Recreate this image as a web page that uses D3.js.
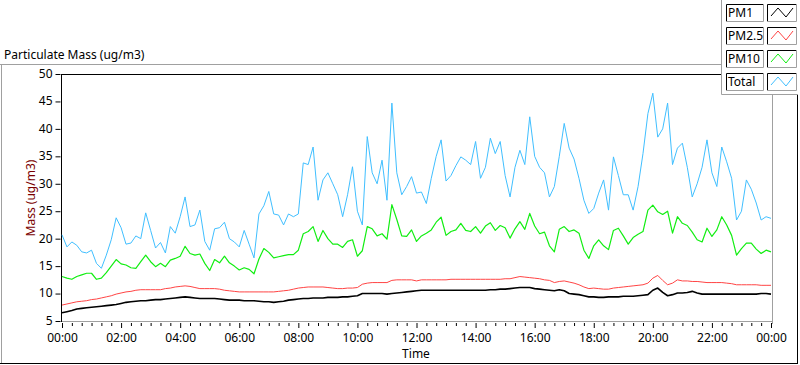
<!DOCTYPE html>
<html><head><meta charset="utf-8">
<script src="https://cdn.jsdelivr.net/npm/d3@7"></script>
<style>
body{margin:0;background:#fff;}
svg{display:block;font-family:"Noto Sans",sans-serif;}
</style></head>
<body><svg id="c" width="800" height="365"></svg>
<script>
// Samples every 10 minutes from 00:00 to 24:00 (145 points)
const startMinute = 0, stepMinutes = 10;
const seriesNames = ["PM1","PM2.5","PM10","Total"];
const seriesColors = ["#000000","#ff4444","#11ee11","#40bfff"];
const xTickLabels = ["00:00","02:00","04:00","06:00","08:00","10:00","12:00","14:00","16:00","18:00","20:00","22:00","00:00"];
const yTicks = [5,10,15,20,25,30,35,40,45,50];

const pm1 = [6.5,6.7,6.9,7.2,7.3,7.4,7.5,7.6,7.7,7.8,7.9,8.0,8.2,8.4,8.5,8.6,8.7,8.7,8.8,8.9,8.9,9.0,9.1,9.2,9.3,9.4,9.3,9.2,9.1,9.1,9.1,9.1,9.0,8.9,8.8,8.8,8.8,
8.7,8.7,8.7,8.6,8.5,8.5,8.4,8.5,8.6,8.8,8.9,9.0,9.1,9.1,9.2,9.2,9.2,9.3,9.3,9.3,9.4,9.4,9.5,9.6,10.0,10.0,10.0,10.0,10.0,9.9,10.0,10.1,10.2,10.3,10.4,10.5,
10.6,10.6,10.6,10.6,10.6,10.6,10.6,10.6,10.6,10.6,10.6,10.6,10.6,10.6,10.7,10.7,10.8,10.8,10.9,11.0,11.1,11.1,11.1,10.9,10.8,10.7,10.6,10.5,10.7,10.5,10.0,9.9,9.8,9.6,9.4,9.4,
9.3,9.3,9.4,9.4,9.4,9.5,9.5,9.5,9.6,9.7,9.8,10.6,11.0,10.2,9.6,9.8,10.1,10.1,10.2,10.4,10.1,9.9,9.9,9.9,9.9,9.9,9.9,9.9,9.9,9.9,9.9,9.9,9.9,10.0,10.0,9.9];

const pm25 = [7.9,8.1,8.3,8.5,8.6,8.7,8.9,9.0,9.2,9.4,9.6,9.9,10.1,10.3,10.4,10.6,10.7,10.7,10.7,10.7,10.7,10.9,11.0,11.2,11.3,11.4,11.3,11.1,10.9,10.9,10.9,10.9,10.8,10.6,10.5,10.4,10.3,
10.3,10.3,10.3,10.3,10.3,10.3,10.3,10.4,10.5,10.6,10.8,11.0,11.1,11.2,11.2,11.2,11.2,11.1,11.0,10.9,10.9,11.0,11.0,11.1,11.7,11.9,12.0,12.0,12.0,12.0,12.4,12.5,12.5,12.5,12.5,12.3,
12.5,12.5,12.5,12.5,12.5,12.5,12.6,12.6,12.6,12.6,12.6,12.6,12.6,12.6,12.6,12.6,12.6,12.7,12.7,12.9,13.1,13.0,12.9,12.8,12.7,12.5,12.4,12.0,12.2,12.3,12.1,11.9,11.6,11.2,10.9,11.0,
10.9,10.8,10.8,11.0,11.1,11.2,11.3,11.4,11.5,11.6,11.9,12.8,13.3,12.4,11.6,11.9,12.5,12.3,12.3,12.2,12.2,12.1,12.0,12.0,12.0,12.0,11.9,11.8,11.6,11.6,11.6,11.6,11.6,11.5,11.5,11.5];

const pm10 = [13.1,12.8,12.6,13.1,13.4,13.7,13.7,12.6,12.8,13.8,15.0,16.2,15.4,15.2,14.7,14.6,15.8,17.0,15.8,14.9,15.5,14.9,16.1,16.4,16.8,18.6,17.3,17.0,17.2,15.5,14.2,16.2,15.6,16.8,15.6,15.0,14.3,
14.7,14.4,13.6,16.3,18.2,17.5,16.5,16.7,16.9,17.1,17.1,17.9,20.9,21.3,22.2,19.5,21.5,20.0,19.0,19.0,18.4,19.5,19.8,16.8,17.8,22.2,21.8,20.5,20.9,19.9,26.2,23.5,20.5,20.4,21.6,19.5,
20.5,21.0,21.6,23.0,23.9,20.6,21.3,21.6,22.8,21.5,21.3,22.2,21.0,22.3,22.9,21.5,22.4,22.0,20.1,21.8,23.1,21.7,24.6,22.3,20.9,21.2,18.7,17.6,21.7,22.2,21.3,21.6,21.0,17.9,16.4,18.7,
19.8,18.7,18.0,21.5,21.9,20.5,19.0,20.2,20.8,21.3,25.2,26.1,24.9,24.4,25.0,21.0,24.0,22.8,22.4,21.2,19.8,19.4,21.9,20.4,21.6,24.0,22.5,20.6,17.0,18.2,19.2,19.2,18.1,17.3,17.9,17.6];

const total = [20.7,18.5,19.4,18.8,17.6,17.4,17.9,15.5,14.6,17.0,19.8,23.8,22.0,19.0,19.2,20.5,20.0,24.7,21.5,18.3,19.3,17.4,22.2,21.0,24.0,27.6,22.2,22.5,25.2,19.5,17.9,21.8,22.0,23.0,20.0,19.4,18.5,
21.5,19.0,16.5,24.5,26.0,28.6,24.5,24.3,22.5,24.5,24.0,24.5,33.8,33.5,36.7,27.0,30.7,32.0,30.0,28.0,24.0,28.0,33.1,25.0,22.5,38.6,32.0,30.0,34.3,27.0,44.7,32.0,28.0,29.5,31.3,28.3,
28.5,26.4,31.0,35.0,38.0,30.5,31.5,33.3,34.9,34.3,33.5,37.7,31.0,33.0,38.3,35.5,37.7,31.5,27.6,33.0,36.1,33.5,42.2,35.0,33.0,32.0,27.6,29.5,35.0,41.0,36.5,34.5,31.0,27.0,24.6,25.5,
28.3,30.7,25.2,34.9,31.5,28.0,28.0,25.2,29.5,35.5,42.8,46.5,38.5,40.0,44.7,33.5,36.5,37.4,33.0,27.6,30.0,33.0,38.0,32.0,29.5,36.7,34.0,31.0,23.4,25.0,30.7,29.0,26.5,23.4,24.0,23.7];

const seriesValues = [pm1, pm25, pm10, total];

const svg = d3.select("#c");
const L = 62, R = 771, T = 74, B = 321;
const x = d3.scaleLinear().domain([0, 1440]).range([L, R]);
const y = d3.scaleLinear().domain([5, 50]).range([B, T]);

// outer panel borders
svg.append("line").attr("x1",0).attr("x2",722).attr("y1",64.5).attr("y2",64.5).attr("stroke","#a0a0a0");
svg.append("line").attr("x1",1.5).attr("x2",1.5).attr("y1",64).attr("y2",364).attr("stroke","#a0a0a0");
svg.append("line").attr("x1",0).attr("x2",798).attr("y1",363.5).attr("y2",363.5).attr("stroke","#000");
svg.append("line").attr("x1",797.5).attr("x2",797.5).attr("y1",94).attr("y2",364).attr("stroke","#000");

// title
svg.append("text").attr("x",4).attr("y",59).attr("font-size",12).attr("fill","#000").text("Particulate Mass (ug/m3)");

// plot area borders
svg.append("line").attr("x1",L).attr("x2",R+1).attr("y1",T+0.5).attr("y2",T+0.5).attr("stroke","#000");
svg.append("line").attr("x1",L-0.5).attr("x2",L-0.5).attr("y1",T).attr("y2",B+1).attr("stroke","#000");
svg.append("line").attr("x1",L).attr("x2",R+1).attr("y1",B+0.5).attr("y2",B+0.5).attr("stroke","#a0a0a0");
svg.append("line").attr("x1",R+1.5).attr("x2",R+1.5).attr("y1",T).attr("y2",B+3).attr("stroke","#a0a0a0");

// lines
const times = pm1.map((d,i)=> startMinute + i*stepMinutes);
const widths = [1.6,1,1.2,1];
const g = svg.append("g");
seriesValues.slice().reverse().forEach((vals, ri) => {
  const i = seriesValues.length-1-ri;
  const line = d3.line().x((d,j)=>x(times[j])).y(d=>y(d));
  g.append("path").datum(vals).attr("d", line).attr("fill","none")
   .attr("stroke", seriesColors[i]).attr("stroke-width", widths[i]).attr("stroke-linejoin","round");
});

// y axis
const yAxis = d3.axisLeft(y).tickValues(yTicks).tickSize(5).tickPadding(3);
const ya = svg.append("g").attr("transform",`translate(${L-1.5},0)`).call(yAxis);
ya.select(".domain").remove();
ya.selectAll("text").attr("font-size",12).attr("font-family","Noto Sans").attr("fill","#000").attr("dy","0.28em");

// x axis: major every 2h, minor every 20 min
const minorTicks = d3.range(0, 1441, 20).filter(m => m % 120 !== 0);
const xMinor = d3.axisBottom(x).tickValues(minorTicks).tickSize(3).tickFormat("");
const xm = svg.append("g").attr("transform",`translate(0,${B+2})`).call(xMinor);
xm.select(".domain").remove();
const majorTicks = xTickLabels.map((d,i)=> i*120);
const xMajor = d3.axisBottom(x).tickValues(majorTicks).tickSize(5).tickPadding(5)
  .tickFormat((d,i)=> xTickLabels[i]);
const xa = svg.append("g").attr("transform",`translate(0,${B+2})`).call(xMajor);
xa.select(".domain").remove();
xa.selectAll("text").attr("font-size",12).attr("font-family","Noto Sans").attr("fill","#000");

svg.append("text").attr("x",416).attr("y",358).attr("text-anchor","middle").attr("font-size",12).text("Time");
svg.append("text").attr("transform","translate(35,198) rotate(-90)").attr("text-anchor","middle")
  .attr("font-size",12).attr("fill","#7a0000").text("Mass (ug/m3)");

// legend panel
const lg = svg.append("g");
lg.append("rect").attr("x",722).attr("y",0).attr("width",76).attr("height",94).attr("fill","#fff");
lg.append("line").attr("x1",721.5).attr("x2",721.5).attr("y1",0).attr("y2",94.5).attr("stroke","#a0a0a0");
lg.append("line").attr("x1",721.5).attr("x2",798).attr("y1",94.5).attr("y2",94.5).attr("stroke","#a0a0a0");
seriesNames.forEach((name,i)=>{
  const y0 = 4 + i*23;
  lg.append("rect").attr("x",726).attr("y",y0).attr("width",37).attr("height",17).attr("fill","#fff");
  lg.append("path").attr("d",`M726.5,${y0+17}V${y0+0.5}H763`).attr("stroke","#000").attr("fill","none");
  lg.append("path").attr("d",`M726,${y0+17.5}H763.5V${y0}`).attr("stroke","#a0a0a0").attr("fill","none");
  lg.append("text").attr("x",728).attr("y",y0+13).attr("font-size",12).attr("fill","#000").text(name);
  lg.append("rect").attr("x",767).attr("y",y0).attr("width",29).attr("height",17).attr("fill","#fff");
  lg.append("path").attr("d",`M767.5,${y0+17}V${y0+0.5}H796`).attr("stroke","#000").attr("fill","none");
  lg.append("path").attr("d",`M767,${y0+17.5}H796.5V${y0}`).attr("stroke","#a0a0a0").attr("fill","none");
  lg.append("path").attr("d",`M771,${y0+12}L778,${y0+4}L786,${y0+13}L793,${y0+4}`)
    .attr("stroke",seriesColors[i]).attr("fill","none").attr("stroke-width",1);
});
</script></body></html>
